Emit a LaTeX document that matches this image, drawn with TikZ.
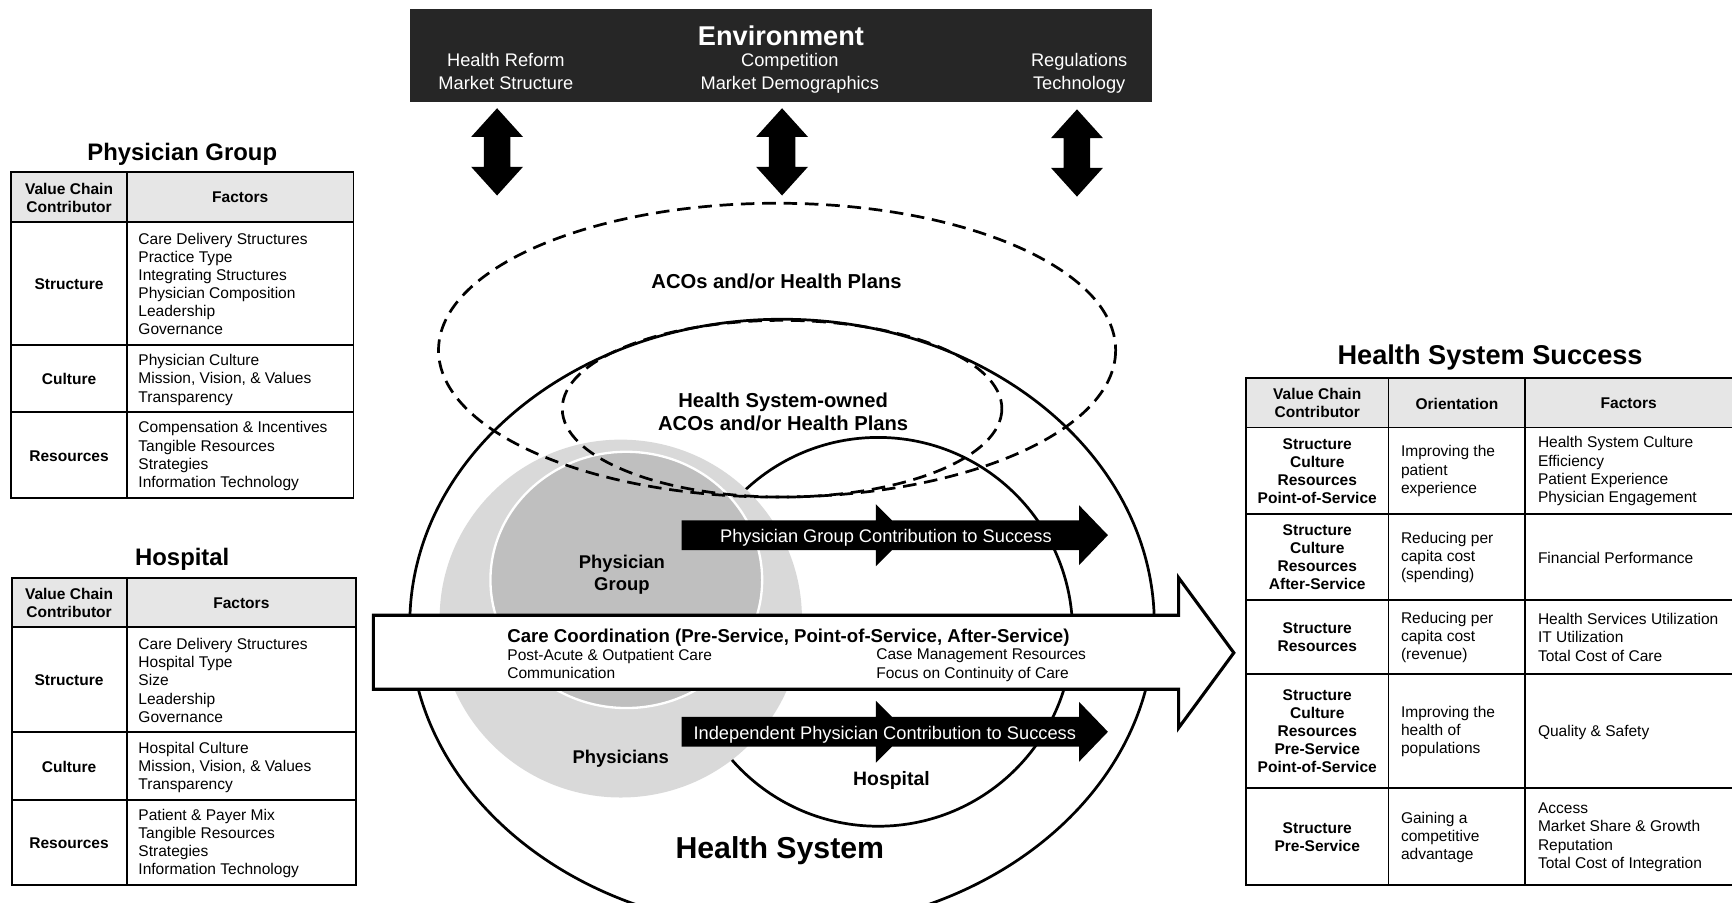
\documentclass[tikz,border=0pt]{standalone}
\usepackage{fontspec}
\setmainfont{Liberation Sans}
\usetikzlibrary{arrows.meta}

\definecolor{envdark}{RGB}{38,38,38}
\definecolor{hdrgray}{RGB}{230,230,230}
\definecolor{physlight}{RGB}{217,217,217}
\definecolor{groupgray}{RGB}{191,191,191}

\newcommand{\cellfont}{\fontsize{8}{9.35}\selectfont}

\begin{document}
\begin{tikzpicture}[x=0.02cm, y=-0.02cm,
  tbl/.style={line width=1pt},
  hdr/.style={fill=hdrgray},
  vc/.style={font=\cellfont\bfseries, align=center, inner sep=0pt},
  fac/.style={font=\cellfont, align=left, anchor=west, inner sep=0pt},
  ttl/.style={font=\fontsize{12.3}{14}\selectfont\bfseries, inner sep=0pt},
  envsub/.style={font=\fontsize{9.4}{11.9}\selectfont, text=white, align=center, inner sep=0pt, anchor=north},
  ring/.style={line width=1.4pt},
  dashring/.style={line width=1.4pt, dash pattern=on 7pt off 4pt},
  lbl/.style={font=\fontsize{9.5}{11.3}\selectfont\bfseries, align=center, inner sep=0pt},
  wtxt/.style={font=\fontsize{9.4}{11}\selectfont, text=white, inner sep=0pt},
  contrib/.pic={
    \fill (0,-13.5) -- (176,-13.5) -- (176,-28) -- (190.5,-13.5) -- (360,-13.5)
      -- (360,-27) -- (386,0) -- (360,27) -- (360,13.5) -- (190.5,13.5)
      -- (176,28) -- (176,13.5) -- (0,13.5) -- cycle;
  },
  envarrow/.pic={
    \fill (0,-39.5) -- (23.5,-13.5) -- (12,-13.5) -- (12,13.5) -- (23.5,13.5)
      -- (0,39.5) -- (-23.5,13.5) -- (-12,13.5) -- (-12,-13.5) -- (-23.5,-13.5) -- cycle;
  }
]
\useasboundingbox (0,0) rectangle (1568,817);

% --- physician group table
\node[ttl] (pgTitle) at (165,139.5) {Physician Group};
\fill[hdr] (10,156) rectangle (320,201);
\draw[tbl] (10,156) rectangle (320,451);
\draw[tbl] (115,156) -- (115,451);
\foreach \y in {201,312,373} \draw[tbl] (10,\y) -- (320,\y);
\node[vc] (pgHdrA) at (62.5,179) {Value Chain\\Contributor};
\node[vc] (pgHdrB) at (217.5,179) {Factors};
\node[vc] (pgStr) at (62.5,257) {Structure};
\node[fac] (pgStrF) at (125,257) {Care Delivery Structures\\Practice Type\\Integrating Structures\\Physician Composition\\Leadership\\Governance};
\node[vc] (pgCul) at (62.5,343.5) {Culture};
\node[fac] (pgCulF) at (125,344) {Physician Culture\\Mission, Vision, \& Values\\Transparency};
\node[vc] (pgRes) at (62.5,413) {Resources};
\node[fac] (pgResF) at (125,413) {Compensation \& Incentives\\Tangible Resources\\Strategies\\Information Technology};

% --- hospital table
\node[ttl] (hoTitle) at (165,506.5) {Hospital};
\fill[hdr] (11,523) rectangle (322,568);
\draw[tbl] (11,523) rectangle (322,801);
\draw[tbl] (115,523) -- (115,801);
\foreach \y in {568,663,724} \draw[tbl] (11,\y) -- (322,\y);
\node[vc] (hoHdrA) at (62.5,546) {Value Chain\\Contributor};
\node[vc] (hoHdrB) at (218.5,546) {Factors};
\node[vc] (hoStr) at (62.5,616) {Structure};
\node[fac] (hoStrF) at (125,616) {Care Delivery Structures\\Hospital Type\\Size\\Leadership\\Governance};
\node[vc] (hoCul) at (62.5,694.5) {Culture};
\node[fac] (hoCulF) at (125,695) {Hospital Culture\\Mission, Vision, \& Values\\Transparency};
\node[vc] (hoRes) at (62.5,763.5) {Resources};
\node[fac] (hoResF) at (125,763.5) {Patient \& Payer Mix\\Tangible Resources\\Strategies\\Information Technology};

% --- health system success table
\node[ttl, font=\fontsize{14}{16}\selectfont\bfseries] (hsTitle) at (1349,323.5) {Health System Success};
\fill[hdr] (1128,342) rectangle (1580,387);
\draw[tbl] (1128,342) rectangle (1580,801);
\foreach \x in {1257,1381} \draw[tbl] (\x,342) -- (\x,801);
\foreach \y in {387,465,543,610,713} \draw[tbl] (1128,\y) -- (1580,\y);
\node[vc] (hsHdrA) at (1192.5,365) {Value Chain\\Contributor};
\node[vc] (hsHdrB) at (1319,365.5) {Orientation};
\node[vc] (hsHdrC) at (1474.5,365.5) {Factors};
\node[vc] (hsA1) at (1192.5,426.5) {Structure\\Culture\\Resources\\Point-of-Service};
\node[fac] (hsA2) at (1268,426.5) {Improving the\\patient\\experience};
\node[fac] (hsA3) at (1392,426.5) {Health System Culture\\Efficiency\\Patient Experience\\Physician Engagement};
\node[vc] (hsB1) at (1192.5,504.5) {Structure\\Culture\\Resources\\After-Service};
\node[fac] (hsB2) at (1268,504.5) {Reducing per\\capita cost\\(spending)};
\node[fac] (hsB3) at (1392,505) {Financial Performance};
\node[vc] (hsC1) at (1192.5,577) {Structure\\Resources};
\node[fac] (hsC2) at (1268,577) {Reducing per\\capita cost\\(revenue)};
\node[fac] (hsC3) at (1392,577) {Health Services Utilization\\IT Utilization\\Total Cost of Care};
\node[vc] (hsD1) at (1192.5,662) {Structure\\Culture\\Resources\\Pre-Service\\Point-of-Service};
\node[fac] (hsD2) at (1268,662) {Improving the\\health of\\populations};
\node[fac] (hsD3) at (1392,663) {Quality \& Safety};
\node[vc] (hsE1) at (1192.5,758) {Structure\\Pre-Service};
\node[fac] (hsE2) at (1268,758) {Gaining a\\competitive\\advantage};
\node[fac] (hsE3) at (1392,758) {Access\\Market Share \& Growth\\Reputation\\Total Cost of Integration};

% --- environment bar
\node[fill=envdark, minimum width=13.44cm, minimum height=1.68cm, inner sep=0pt] (env) at (707,50) {};
\node[font=\fontsize{14}{16}\selectfont\bfseries, text=white, inner sep=0pt] (envTitle) at (707,32) {Environment};
\node[envsub] (envL) at (458,47.5) {Health Reform\\Market Structure};
\node[envsub] (envM) at (715,47.5) {Competition\\Market Demographics};
\node[envsub] (envR) at (977,47.5) {Regulations\\Technology};
\pic at (450,137.5) {envarrow};
\pic at (708,137.5) {envarrow};
\pic at (975,138.5) {envarrow};

% --- health system and its members
\draw[ring] (708,565) ellipse [x radius=337, y radius=276];
\draw[ring] (795,572) ellipse [x radius=176, y radius=176];
\fill[physlight] (562,560) ellipse [x radius=164, y radius=162];
\filldraw[fill=groupgray, draw=white, line width=1.2pt] (567,525) ellipse [x radius=123, y radius=116];
\draw[dashring] (703.5,317) ellipse [x radius=306.5, y radius=133];
\draw[dashring] (708,370) ellipse [x radius=199, y radius=80];

\node[lbl, font=\fontsize{10.4}{11.9}\selectfont\bfseries] (aco) at (703,255) {ACOs and/or Health Plans};
\node[lbl, font=\fontsize{10.4}{11.9}\selectfont\bfseries] (hsAco) at (709,373) {Health System-owned\\ACOs and/or Health Plans};
\node[lbl] (pgLbl) at (563,520.5) {Physician\\Group};
\node[lbl] (physLbl) at (562,686.5) {Physicians};
\node[lbl, font=\fontsize{10}{12}\selectfont\bfseries] (hospLbl) at (807,706.5) {Hospital};
\node[font=\fontsize{15.6}{18}\selectfont\bfseries, inner sep=0pt] (hsLbl) at (706,770.5) {Health System};

% --- contribution arrows
\pic at (617,484.5) {contrib};
\node[wtxt] (pgContrib) at (802,487) {Physician Group Contribution to Success};
\pic at (617,662.5) {contrib};
\node[wtxt] (ipContrib) at (801,665) {Independent Physician Contribution to Success};

% --- care coordination arrow
\draw[line width=1.6pt, fill=white] (338,557) -- (1067,557) -- (1067,523) -- (1117,591)
  -- (1067,659) -- (1067,624) -- (338,624) -- cycle;
\node[font=\fontsize{9.6}{11}\selectfont\bfseries, anchor=west, inner sep=0pt] (ccTitle) at (459,577) {Care Coordination (Pre-Service, Point-of-Service, After-Service)};
\node[fac, anchor=north west, font=\fontsize{8}{9.6}\selectfont] (ccLeft) at (459,587) {Post-Acute \& Outpatient Care\\Communication};
\node[fac, anchor=north west, font=\fontsize{8}{9.6}\selectfont] (ccRight) at (793,587) {Case Management Resources\\Focus on Continuity of Care};
\end{tikzpicture}
\end{document}
